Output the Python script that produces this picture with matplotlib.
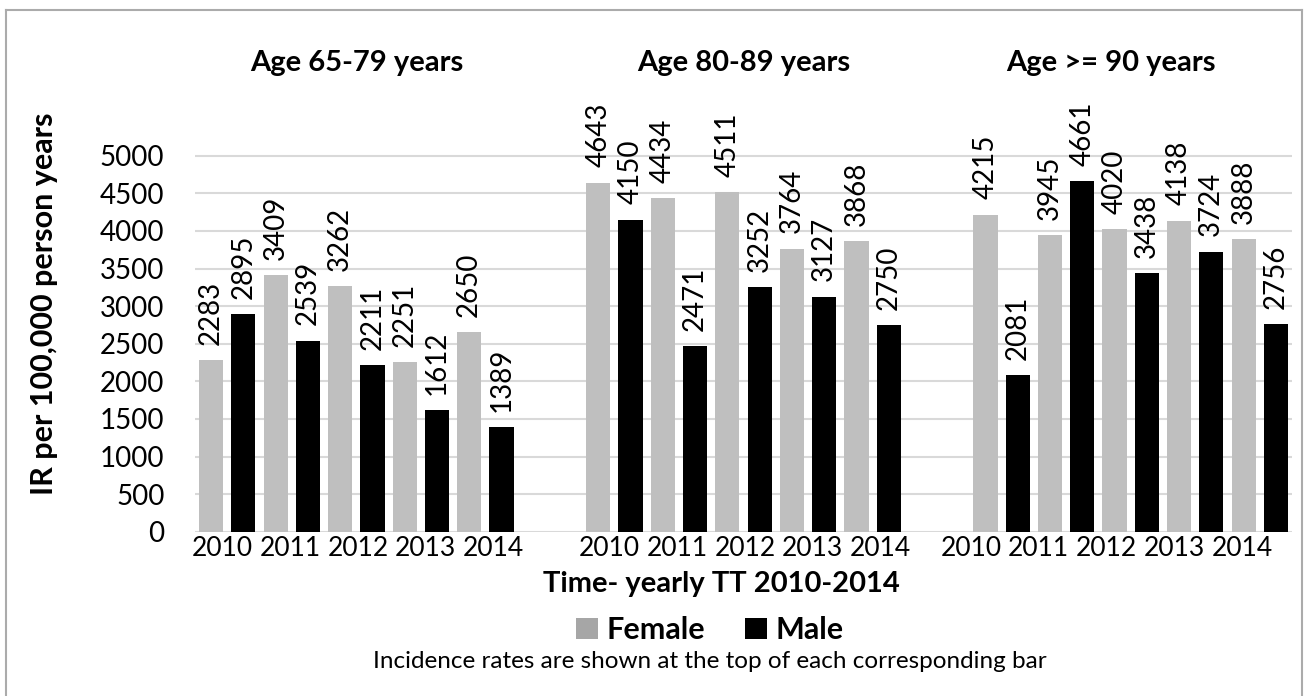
"""
incidence rates per age group, female vs male, 2010-2014
"""

import matplotlib.pyplot as plt
from matplotlib.patches import Patch
from matplotlib.lines import Line2D

# --- data ---
years = ["2010", "2011", "2012", "2013", "2014"]
age_groups = ["Age 65-79 years", "Age 80-89 years", "Age >= 90 years"]
female_65_79 = [2283, 3409, 3262, 2251, 2650]
male_65_79 = [2895, 2539, 2211, 1612, 1389]
female_80_89 = [4643, 4434, 4511, 3764, 3868]
male_80_89 = [4150, 2471, 3252, 3127, 2750]
female_90 = [4215, 3945, 4020, 4138, 3888]
male_90 = [2081, 4661, 3438, 3724, 2756]

female = [female_65_79, female_80_89, female_90]
male = [male_65_79, male_80_89, male_90]

# --- style ---
GRAY = "#BFBFBF"
GRAY_LEGEND = "#A6A6A6"
BLACK = "#000000"
GRID = "#D9D9D9"
FONT = "Lato"
GROUP_SLOTS = 12  # 10 bars + 2 empty slots per group
TICK_SHIFT = [0.35, 0.35, -0.45]
TITLE_SHIFT = [0.0, 0.0, -0.6]

plt.rcParams['font.family'] = [FONT, 'DejaVu Sans']

fig = plt.figure(figsize=(13.04, 6.96), dpi=100)
ax = fig.add_axes([195 / 1304, 1 - 531.7 / 696, 1097 / 1304, 451.2 / 696])

tick_pos, tick_lab = [], []
for g in range(3):
    start = g * GROUP_SLOTS
    for i in range(len(years)):
        xf = start + 2 * i
        xm = xf + 1
        ax.bar(xf, female[g][i], width=0.75, color=GRAY, zorder=2)
        ax.bar(xm, male[g][i], width=0.75, color=BLACK, zorder=2)
        for x, v in ((xf, female[g][i]), (xm, male[g][i])):
            ax.annotate(str(v), (x, v), xytext=(0, 11), textcoords="offset points",
                        rotation=90, ha="center", va="bottom", fontsize=20)
        tick_pos.append(start + TICK_SHIFT[g] + 2.1 * i)
        tick_lab.append(years[i])
    ax.text(start + 4.5 + TITLE_SHIFT[g], 6230, age_groups[g], ha="center", va="center",
            fontsize=21, fontweight="bold", clip_on=False)

ax.set_xlim(-0.5, 3 * GROUP_SLOTS - 2.5)
ax.set_ylim(0, 6000)
ax.set_yticks(range(0, 5001, 500))
ax.set_xticks(tick_pos)
ax.set_xticklabels(tick_lab)
ax.tick_params(axis="both", length=0)
ax.tick_params(axis="y", pad=22, labelsize=20)
ax.tick_params(axis="x", pad=3, labelsize=19)
ax.grid(axis="y", color=GRID, linewidth=1.5, zorder=0)
for s in ax.spines.values():
    s.set_visible(False)

fig.text(44 / 1304, 1 - 304 / 696, "IR per 100,000 person years", rotation=90,
         ha="center", va="center", fontsize=22, fontweight="bold")
fig.text(721 / 1304, 1 - 584 / 696, "Time- yearly TT 2010-2014",
         ha="center", va="center", fontsize=21, fontweight="bold")

handles = [Patch(facecolor=GRAY_LEGEND, label="Female"), Patch(facecolor=BLACK, label="Male")]
fig.legend(handles=handles, loc="center", bbox_to_anchor=(710 / 1304, 1 - 630 / 696), ncol=2,
           frameon=False, prop={"family": FONT, "weight": "bold", "size": 22},
           handlelength=0.7, handleheight=0.7, handletextpad=0.3, columnspacing=1.3)

fig.text(710 / 1304, 1 - 662 / 696, "Incidence rates are shown at the top of each corresponding bar",
         ha="center", va="center", fontsize=17.5)

# outer chart border (left, top, right)
border = dict(color="#ABABAB", linewidth=1.5, transform=fig.transFigure)
fig.add_artist(Line2D([6 / 1304, 6 / 1304], [0, 1 - 9.5 / 696], **border))
fig.add_artist(Line2D([6 / 1304, 1302 / 1304], [1 - 9.5 / 696, 1 - 9.5 / 696], **border))
fig.add_artist(Line2D([1302 / 1304, 1302 / 1304], [0, 1 - 9.5 / 696], **border))

fig.savefig("out.png", dpi=100)
